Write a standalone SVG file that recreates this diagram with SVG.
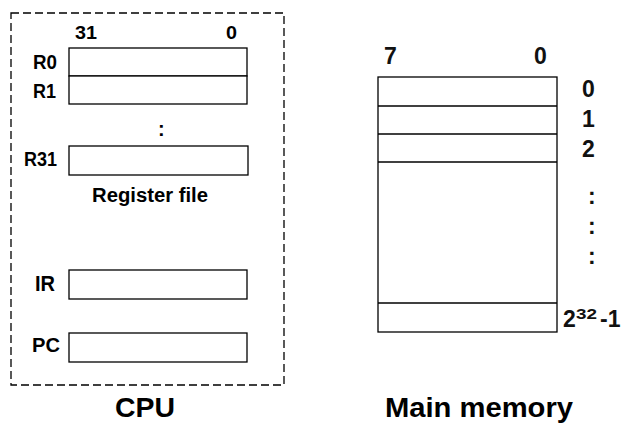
<svg xmlns="http://www.w3.org/2000/svg" width="623" height="424" viewBox="0 0 623 424">
<style>
.box{fill:#fff;stroke:#000;stroke-width:1.3}
.ln{stroke:#000;stroke-width:1.3}
.b{font-family:"Liberation Sans",Arial,sans-serif;font-weight:bold;fill:#000}
.m{font-family:"Liberation Sans",Arial,sans-serif;font-weight:bold;fill:#111;font-size:23px}
</style>
<rect width="623" height="424" fill="#fff"/>
<g id="cpu">
<rect x="11" y="13" width="273" height="372" fill="none" stroke="#000" stroke-width="1.3" stroke-dasharray="8,4"/>
<text class="b" x="75" y="39" font-size="19" textLength="22" lengthAdjust="spacingAndGlyphs">31</text>
<text class="b" x="226" y="39" font-size="19" textLength="11" lengthAdjust="spacingAndGlyphs">0</text>
<g id="r0"><rect class="box" x="69" y="48" width="178" height="28"/><text class="b" x="33" y="69" font-size="20" textLength="24" lengthAdjust="spacingAndGlyphs">R0</text></g>
<g id="r1"><rect class="box" x="69" y="76" width="178" height="28"/><text class="b" x="33" y="98" font-size="20" textLength="23" lengthAdjust="spacingAndGlyphs">R1</text></g>
<text class="b" x="158" y="136" font-size="20">:</text>
<g id="r31"><rect class="box" x="69" y="146" width="179" height="29"/><text class="b" x="24" y="166" font-size="20" textLength="33" lengthAdjust="spacingAndGlyphs">R31</text></g>
<text class="b" x="92" y="202" font-size="20" textLength="116" lengthAdjust="spacingAndGlyphs">Register file</text>
<g id="ir"><rect class="box" x="69" y="270" width="178" height="29"/><text class="b" x="35" y="291" font-size="22" textLength="20" lengthAdjust="spacingAndGlyphs">IR</text></g>
<g id="pc"><rect class="box" x="69" y="333" width="178" height="29"/><text class="b" x="32" y="352" font-size="20" fill="#222" textLength="28" lengthAdjust="spacingAndGlyphs">PC</text></g>
<text class="b" x="115" y="417" font-size="28" textLength="60" lengthAdjust="spacingAndGlyphs">CPU</text>
</g>
<g id="memory">
<text class="m" x="384" y="64">7</text>
<text class="m" x="534" y="64">0</text>
<rect class="box" x="378" y="77" width="179" height="255"/>
<line class="ln" x1="378" y1="106" x2="557" y2="106"/>
<line class="ln" x1="378" y1="134" x2="557" y2="134"/>
<line class="ln" x1="378" y1="162" x2="557" y2="162"/>
<line class="ln" x1="378" y1="303" x2="557" y2="303"/>
<text class="m" x="582" y="97">0</text>
<text class="m" x="582" y="127">1</text>
<text class="m" x="582" y="157">2</text>
<text class="m" x="588" y="204">:</text>
<text class="m" x="588" y="234">:</text>
<text class="m" x="588" y="264">:</text>
<text class="m" x="563" y="327">2</text>
<text class="m" x="576" y="319" style="font-size:15px" textLength="21" lengthAdjust="spacingAndGlyphs">32</text>
<text class="m" x="600" y="327">-1</text>
<text class="b" x="385" y="417" font-size="28" textLength="188" lengthAdjust="spacingAndGlyphs">Main memory</text>
</g>
</svg>
